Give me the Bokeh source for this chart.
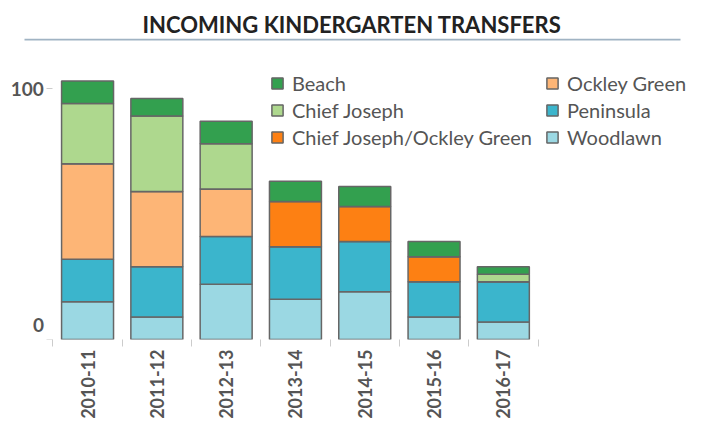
import math
from bokeh.plotting import figure
from bokeh.models import (FixedTicker, Legend, LegendItem, ColumnDataSource,
                          Range1d, BoxAnnotation)
from bokeh.embed import file_html
from bokeh.resources import INLINE

# ---------------- data ----------------
years = ["2010-11", "2011-12", "2012-13", "2013-14", "2014-15", "2015-16", "2016-17"]
woodlawn = [15, 9, 22, 16, 19, 9, 7]
peninsula = [17, 20, 19, 21, 20, 14, 16]
ockley_green = [38, 30, 19, 0, 0, 0, 0]
chief_joseph_ockley_green = [0, 0, 0, 18, 14, 10, 0]
chief_joseph = [24, 30, 18, 0, 0, 0, 3]
beach = [9, 7, 9, 8, 8, 6, 3]

y_ticks = [0, 100]

# stacking order (bottom -> top) and legend order (alphabetical)
stack_names = ["Woodlawn", "Peninsula", "Ockley Green",
               "Chief Joseph/Ockley Green", "Chief Joseph", "Beach"]
stack_values = [woodlawn, peninsula, ockley_green,
                chief_joseph_ockley_green, chief_joseph, beach]
colors = {
    "Beach": "#33a04f",
    "Chief Joseph": "#aed88e",
    "Chief Joseph/Ockley Green": "#fd8013",
    "Ockley Green": "#fdb576",
    "Peninsula": "#3bb5cc",
    "Woodlawn": "#9bd8e3",
}
legend_order = sorted(stack_names)

# ---------------- styling / layout constants (pixels) ----------------
FONT = "Lato"
LABEL_COLOR = "#555555"
TICK_COLOR = "#cccccc"
RULE_COLOR = "#a0b3c3"
RULE_PX = 2
RULE_LEFT_PX, RULE_RIGHT_PX = 24, 680   # canvas x of the rule's ends
BAND_PX = 69.3          # width of one category band
AXIS_X_PX = 52.4        # canvas x of the y axis / first band edge
UNIT_PX = 2.51          # pixels per transfer
W, H = 700, 426
B_LEFT, B_RIGHT, B_TOP, B_BOTTOM = 5, 2, 38, 87
FRAME_W, FRAME_H = W - B_LEFT - B_RIGHT, H - B_TOP - B_BOTTOM
ZERO_LABEL_LIFT_PX = 14

x_start = -(AXIS_X_PX - B_LEFT) / BAND_PX
x_end = x_start + FRAME_W / BAND_PX
y_end = FRAME_H / UNIT_PX

xs = [i + 0.5 for i in range(len(years))]
data = {"x": xs}
for name, vals in zip(stack_names, stack_values):
    data[name] = vals
source = ColumnDataSource(data)

p = figure(width=W, height=H,
           x_range=Range1d(x_start, x_end), y_range=Range1d(0, y_end),
           output_backend="svg", toolbar_location=None,
           min_border_left=B_LEFT, min_border_right=B_RIGHT,
           min_border_top=B_TOP, min_border_bottom=B_BOTTOM)

# title + rule under it (rule = thin band at the top of the frame)
p.title.text = "INCOMING KINDERGARTEN TRANSFERS"
p.title.align = "center"
p.title.standoff = 1
p.title.text_font = FONT
p.title.text_font_style = "bold"
p.title.text_font_size = "22px"
p.title.text_color = "#222222"
rule = BoxAnnotation(bottom=y_end - RULE_PX / UNIT_PX,
                     left=x_start + (RULE_LEFT_PX - B_LEFT) / BAND_PX,
                     right=x_start + (RULE_RIGHT_PX - B_LEFT) / BAND_PX,
                     fill_color=RULE_COLOR, fill_alpha=1.0, line_color=None)
p.add_layout(rule)

renderers = p.vbar_stack(stack_names, x="x", width=0.75, source=source,
                         fill_color=[colors[n] for n in stack_names],
                         line_color="#666666", line_width=1.5)
rmap = dict(zip(stack_names, renderers))

legend = Legend(items=[LegendItem(label=n, renderers=[rmap[n]]) for n in legend_order],
                orientation="vertical", nrows=3,
                location=(270 - B_LEFT, 190),
                label_text_font=FONT, label_text_font_size="20px",
                label_text_color=LABEL_COLOR,
                glyph_width=14, glyph_height=14, label_standoff=8,
                label_width=250, label_height=24,
                spacing=3, padding=0, margin=0,
                border_line_color=None, background_fill_alpha=0)
p.add_layout(legend, "center")

# y axis, drawn at the left edge of the first band
lift = ZERO_LABEL_LIFT_PX / UNIT_PX
ylab_pos = [round(t + (lift if t == 0 else 0), 1) for t in y_ticks]
p.yaxis.fixed_location = 0
p.yaxis.ticker = FixedTicker(ticks=ylab_pos, minor_ticks=y_ticks)
p.yaxis.major_label_overrides = {pos: str(t) for pos, t in zip(ylab_pos, y_ticks)}
p.yaxis.axis_line_color = None
p.yaxis.major_tick_line_color = None
p.yaxis.major_tick_out = 6
p.yaxis.major_tick_in = 0
p.yaxis.minor_tick_line_color = TICK_COLOR
p.yaxis.minor_tick_out = 6
p.yaxis.minor_tick_in = 0
p.yaxis.major_label_standoff = 3
p.yaxis.major_label_text_font = FONT
p.yaxis.major_label_text_font_style = "bold"
p.yaxis.major_label_text_font_size = "19px"
p.yaxis.major_label_text_color = LABEL_COLOR

# x axis
p.xaxis.ticker = FixedTicker(ticks=xs, minor_ticks=list(range(len(years) + 1)))
p.xaxis.major_label_overrides = {x: y for x, y in zip(xs, years)}
p.xaxis.major_label_orientation = math.pi / 2
p.xaxis.axis_line_color = None
p.xaxis.major_tick_line_color = None
p.xaxis.major_tick_out = 7
p.xaxis.major_tick_in = 0
p.xaxis.minor_tick_line_color = TICK_COLOR
p.xaxis.minor_tick_out = 7
p.xaxis.minor_tick_in = 0
p.xaxis.major_label_standoff = 3
p.xaxis.major_label_text_font = FONT
p.xaxis.major_label_text_font_style = "bold"
p.xaxis.major_label_text_font_size = "18px"
p.xaxis.major_label_text_color = LABEL_COLOR

p.grid.visible = False
p.outline_line_color = None

open("out.html", "w").write(file_html(p, INLINE))
